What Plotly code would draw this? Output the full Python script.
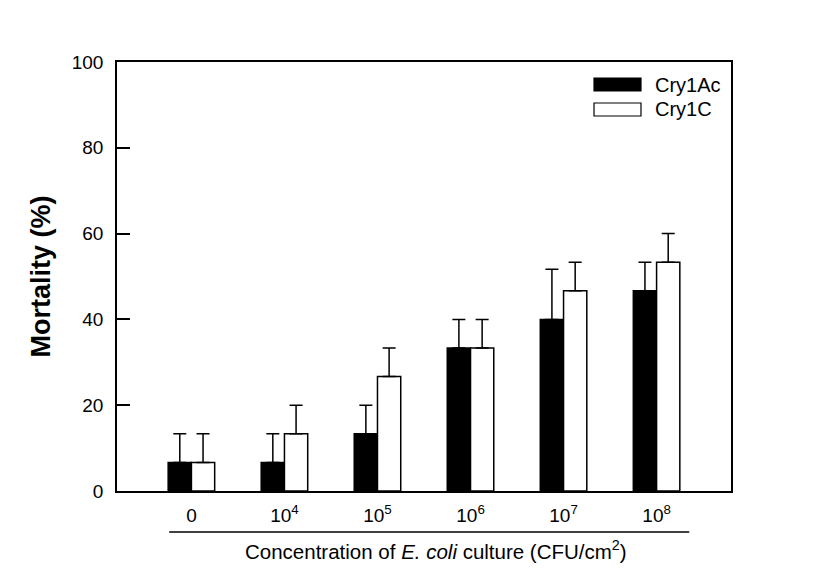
import plotly.graph_objects as go

categories = ["0", "10<sup>4</sup>", "10<sup>5</sup>", "10<sup>6</sup>", "10<sup>7</sup>", "10<sup>8</sup>"]
cry1ac = [6.67, 6.67, 13.33, 33.33, 40.0, 46.67]
cry1ac_err = [6.67, 6.67, 6.67, 6.67, 11.7, 6.67]
cry1c = [6.67, 13.33, 26.67, 33.33, 46.67, 53.33]
cry1c_err = [6.67, 6.67, 6.67, 6.67, 6.67, 6.67]
series_names = ["Cry1Ac", "Cry1C"]

x_idx = list(range(len(categories)))
FONT = "Liberation Sans, Arial, sans-serif"

fig = go.Figure()
fig.add_trace(go.Bar(
    x=x_idx, y=cry1ac, name=series_names[0],
    marker=dict(color="black", line=dict(color="black", width=1.5)),
    error_y=dict(type="data", symmetric=False, array=cry1ac_err,
                 arrayminus=[0] * len(cry1ac), color="black", thickness=1.5, width=6.5),
    showlegend=False,
))
fig.add_trace(go.Bar(
    x=x_idx, y=cry1c, name=series_names[1],
    marker=dict(color="white", line=dict(color="black", width=1.5)),
    error_y=dict(type="data", symmetric=False, array=cry1c_err,
                 arrayminus=[0] * len(cry1c), color="black", thickness=1.5, width=6.5),
    showlegend=False,
))

fig.update_layout(
    width=823, height=581,
    margin=dict(l=109, r=100, t=54, b=98),
    paper_bgcolor="white", plot_bgcolor="white",
    barmode="group", bargap=0.5, bargroupgap=0,
    font=dict(family=FONT, size=19, color="black"),
    xaxis=dict(
        range=[-0.8, 5.8], tickvals=x_idx, ticktext=categories,
        showline=True, linecolor="black", linewidth=1.5, mirror=True,
        ticks="", showgrid=False, zeroline=False,
        tickfont=dict(size=19), ticklabelstandoff=6,
    ),
    yaxis=dict(
        range=[0, 100], dtick=20, tick0=0,
        showline=True, linecolor="black", linewidth=1.5, mirror=True,
        ticks="inside", ticklen=13, tickwidth=1.5, tickcolor="black",
        showgrid=False, zeroline=False,
        tickfont=dict(size=19), ticklabelstandoff=8,
        title=dict(text="<b>Mortality (%)</b>", font=dict(size=27), standoff=13),
    ),
    shapes=[
        # line under category labels
        dict(type="line", xref="paper", yref="paper", x0=0.085, x1=0.932,
             y0=-0.0956, y1=-0.0956, line=dict(color="black", width=1.5)),
        # custom legend boxes
        dict(type="rect", xref="paper", yref="paper", x0=0.7769, x1=0.8534,
             y0=0.9324, y1=0.9627, fillcolor="black", line=dict(color="black", width=1.2)),
        dict(type="rect", xref="paper", yref="paper", x0=0.7769, x1=0.8534,
             y0=0.8741, y1=0.9044, fillcolor="white", line=dict(color="black", width=1.2)),
    ],
    annotations=[
        dict(text="Concentration of <i>E. coli</i> culture (CFU/cm<sup>2</sup>)",
             xref="paper", yref="paper", x=0.52, y=-0.137, xanchor="center", yanchor="middle",
             showarrow=False, font=dict(size=20.5)),
        dict(text=series_names[0], xref="paper", yref="paper", x=0.873, y=0.9464,
             xanchor="left", yanchor="middle", showarrow=False, font=dict(size=20)),
        dict(text=series_names[1], xref="paper", yref="paper", x=0.873, y=0.8904,
             xanchor="left", yanchor="middle", showarrow=False, font=dict(size=20)),
    ],
)

fig.write_html("out.html")
